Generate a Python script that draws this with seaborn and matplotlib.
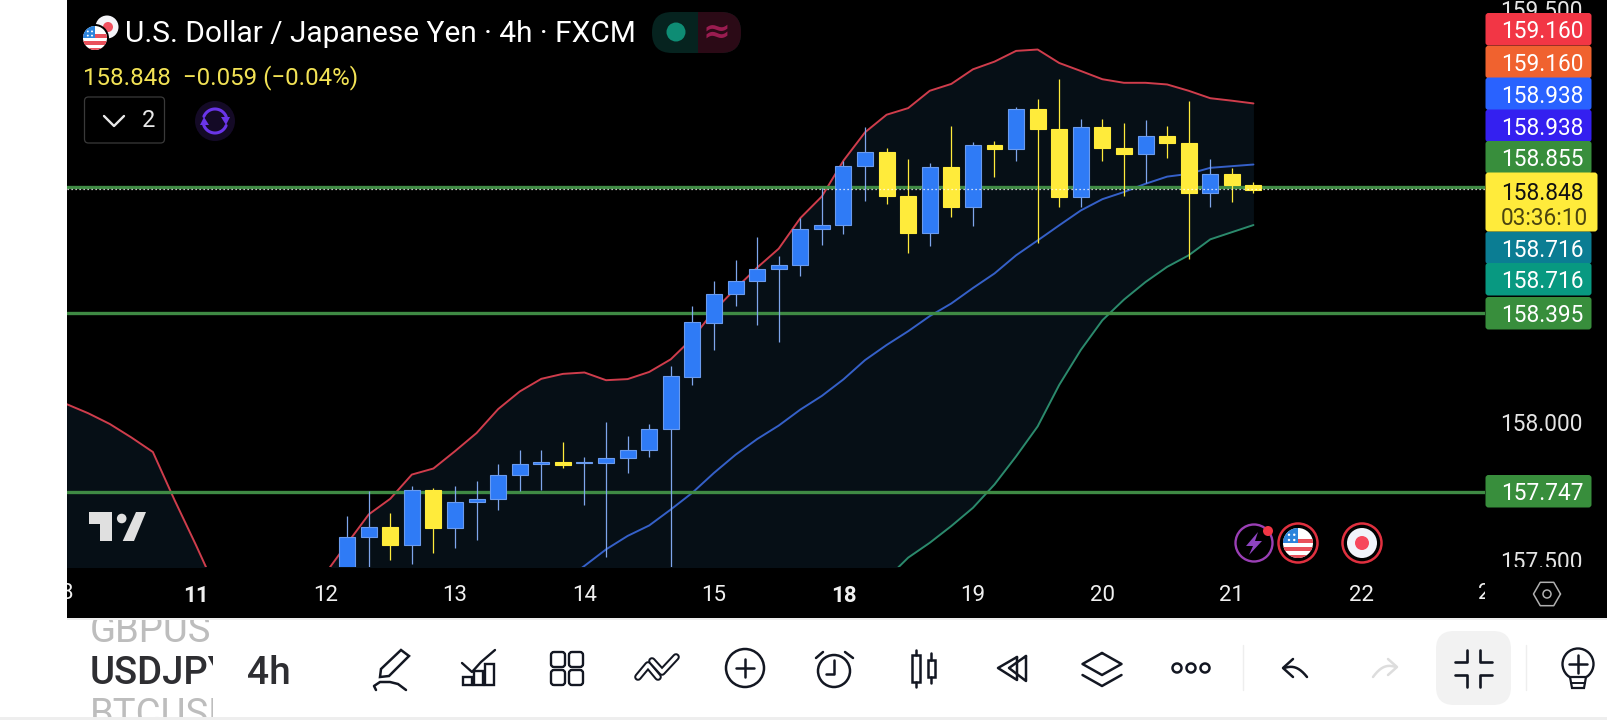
import numpy as np
import pandas as pd
import matplotlib
matplotlib.use("Agg")
import matplotlib.pyplot as plt
from matplotlib.patches import Rectangle, Circle, FancyBboxPatch, Polygon
from matplotlib.transforms import Bbox
import seaborn as sns

# bar numbers count from the "11" day tick, six 4h bars per day
candle_start = 7
candle_open = [157.44, 157.582, 157.619, 157.553, 157.754, 157.613, 157.709, 157.720, 157.807, 157.847,
               157.855, 157.850, 157.850, 157.868, 157.897, 157.973, 158.165, 158.361, 158.466, 158.513,
               158.557, 158.571, 158.702, 158.717, 158.930, 158.982, 158.822, 158.687, 158.927, 158.781,
               159.007, 158.991, 159.138, 159.065, 158.818, 159.072, 158.996, 158.976, 159.040, 159.014,
               158.832, 158.902, 158.862]
candle_close = [157.583, 157.619, 157.553, 157.754, 157.613, 157.710, 157.721, 157.808, 157.848, 157.855,
                157.845, 157.853, 157.869, 157.898, 157.975, 158.167, 158.362, 158.467, 158.514, 158.558,
                158.572, 158.703, 158.717, 158.931, 158.982, 158.821, 158.687, 158.927, 158.781, 159.007,
                158.991, 159.138, 159.064, 158.818, 159.072, 158.995, 158.976, 159.040, 159.013, 158.832,
                158.902, 158.861, 158.845]
candle_high = [157.658, 157.749, 157.670, 157.767, 157.760, 157.769, 157.784, 157.848, 157.900, 157.900,
               157.929, 157.873, 158.001, 157.950, 157.994, 158.202, 158.421, 158.512, 158.588, 158.673,
               158.603, 158.741, 158.850, 158.950, 159.071, 158.996, 158.956, 158.942, 159.077, 159.018,
               159.023, 159.146, 159.174, 159.246, 159.101, 159.101, 159.087, 159.099, 159.077, 159.167,
               158.956, 158.924, 158.873]
candle_low = [157.40, 157.45, 157.499, 157.483, 157.523, 157.541, 157.571, 157.680, 157.749, 157.752,
              157.834, 157.697, 157.510, 157.813, 157.874, 157.453, 158.135, 158.260, 158.421, 158.351,
              158.291, 158.531, 158.642, 158.683, 158.802, 158.792, 158.615, 158.641, 158.745, 158.711,
              158.889, 158.950, 158.652, 158.781, 158.781, 158.950, 158.821, 158.869, 158.958, 158.593,
              158.781, 158.798, 158.832]

upper_start = -6
upper_band = [158.065, 158.032, 157.993, 157.944, 157.891, 157.717, 157.552, 157.38, 157.25, 157.20,
              157.25, 157.35, 157.45, 157.558, 157.664, 157.721, 157.809, 157.831, 157.894, 157.960,
              158.047, 158.111, 158.157, 158.175, 158.180, 158.152, 158.156, 158.182, 158.228, 158.304,
              158.404, 158.485, 158.561, 158.630, 158.741, 158.82, 158.950, 159.053, 159.117, 159.141,
              159.204, 159.229, 159.282, 159.310, 159.349, 159.354, 159.305, 159.276, 159.246, 159.233,
              159.233, 159.227, 159.204, 159.177, 159.168, 159.158]
basis_start = 17
basis_line = [157.42, 157.477, 157.537, 157.586, 157.624, 157.682, 157.743, 157.815, 157.881, 157.938,
              157.987, 158.045, 158.095, 158.155, 158.225, 158.280, 158.330, 158.385, 158.431, 158.487,
              158.540, 158.606, 158.660, 158.715, 158.769, 158.810, 158.836, 158.866, 158.892, 158.902,
              158.924, 158.930, 158.936]
lower_start = 32
lower_band = [157.43, 157.507, 157.561, 157.622, 157.688, 157.773, 157.875, 157.984, 158.135, 158.262,
              158.370, 158.445, 158.509, 158.564, 158.606, 158.664, 158.690, 158.716]

level_prices = [158.855, 158.395, 157.747]
last_price = 158.848
price_ticks = [157.5, 158.0, 159.5]
price_tick_labels = ["157.500", "158.000", "159.500"]
day_ticks = [0, 6, 12, 18, 24, 30, 36, 42, 48, 54]
day_labels = ["11", "12", "13", "14", "15", "18", "19", "20", "21", "22"]
edge_day_ticks = [-6, 60]
edge_day_labels = ["8", "23"]

tag_labels = ["159.160", "159.160", "158.938", "158.938", "158.855", "158.716", "158.716", "158.395", "157.747"]
tag_colors = ["#F23645", "#F0622F", "#2962FF", "#3420F0", "#388E3C", "#0B7D93", "#089981", "#388E3C", "#388E3C"]
tag_tops = [13, 45.7, 77.5, 109.5, 141, 231.5, 263, 297, 475]

UP = "#2F7BF6"
DOWN = "#FFEB3B"
LINE_GREEN = "#3F8A44"
BAND_FILL = "#060F16"
INK = "#131722"

sns.set_theme(style="dark", rc={"axes.grid": False})
plt.rcParams["font.family"] = ["Roboto", "DejaVu Sans"]

W, H = 1608, 720
fig = plt.figure(figsize=(W / 100, H / 100), dpi=100, facecolor="white")


def px_box(x0, y0, x1, y1):
    return Bbox.from_extents(x0, H - y1, x1, H - y0)


# black chart panel behind everything
ax_bg = fig.add_axes([0, 0, 1, 1], zorder=0)
ax_bg.set_xlim(0, W)
ax_bg.set_ylim(H, 0)
ax_bg.axis("off")
ax_bg.add_patch(Rectangle((67, 0), W - 67, 618, color="black", lw=0))
ax_bg.add_patch(Rectangle((67, 618), W - 67, 2, color="#EEEEEE", lw=0))
ax_bg.add_patch(Rectangle((0, 717), W, 3, color="#EEEEEE", lw=0))

# price pane
ax = fig.add_axes([67 / W, (H - 567) / H, (1485 - 67) / W, 567 / H], zorder=1)
ax.set_facecolor("none")
y_bottom, y_top = 157.473, 159.534

upper_x = np.arange(len(upper_band)) + upper_start
lower_x = np.arange(len(lower_band)) + lower_start
basis_x = np.arange(len(basis_line)) + basis_start
fill_floor = np.full(len(upper_band), y_bottom - 0.4)
fill_floor[lower_x - upper_start] = lower_band
ax.fill_between(upper_x, upper_band, fill_floor, color=BAND_FILL, lw=0, zorder=1)

upper_df = pd.DataFrame({"bar": upper_x, "price": upper_band})
basis_df = pd.DataFrame({"bar": basis_x, "price": basis_line})
lower_df = pd.DataFrame({"bar": lower_x, "price": lower_band})
sns.lineplot(data=upper_df, x="bar", y="price", ax=ax, color="#CF3D4C", lw=1.4, estimator=None, zorder=2)
sns.lineplot(data=basis_df, x="bar", y="price", ax=ax, color="#3560C8", lw=1.4, estimator=None, zorder=2)
sns.lineplot(data=lower_df, x="bar", y="price", ax=ax, color="#2B8A6C", lw=1.4, estimator=None, zorder=2)

for level in level_prices:
    ax.axhline(level, color=LINE_GREEN, lw=2.4, zorder=3)

candles = pd.DataFrame({"open": candle_open, "high": candle_high, "low": candle_low, "close": candle_close})
candles["bar"] = np.arange(len(candles)) + candle_start
rising = candles["close"] >= candles["open"]
for mask, body, edge, wick in [(rising, UP, "#6A9BEE", "#7EA6EC"), (~rising, DOWN, DOWN, DOWN)]:
    part = candles[mask]
    ax.vlines(part["bar"], part["low"], part["high"], color=wick, lw=0.9, zorder=4)
    ax.bar(part["bar"], (part["close"] - part["open"]).abs(), bottom=part[["open", "close"]].min(axis=1),
           width=0.74, color=body, edgecolor=edge, lw=0.8, zorder=5)

ax.axhline(last_price, color="white", lw=0.9, ls=(0, (1, 2.2)), zorder=6)

ax.set_xlabel("")
ax.set_ylabel("")
sns.despine(ax=ax, left=True, bottom=True)
ax.yaxis.tick_right()
ax.set_yticks(price_ticks, price_tick_labels)
ax.set_xticks(day_ticks, day_labels)
ax.set_xlim(-5.98, 59.73)
ax.set_ylim(y_bottom, y_top)
ax.tick_params(axis="y", length=0, pad=10.7, labelsize=16.3, labelcolor="#E4E4E4")
ax.tick_params(axis="x", length=0, pad=13, labelsize=16, labelcolor="#F0F0F0")
for lab in ax.get_yticklabels():
    lab.set_clip_on(True)
    lab.set_clip_box(px_box(1485, 0, W, 567))
for lab in ax.get_xticklabels():
    lab.set_clip_on(True)
    lab.set_clip_box(px_box(67, 567, 1485, 618))
    if lab.get_text() in ("11", "18"):
        lab.set_fontweight("bold")

# the two day ticks on the pane edges are cut in half by it
for tick, text in zip(edge_day_ticks, edge_day_labels):
    cut_label = ax.text(tick, -0.0475, text, transform=ax.get_xaxis_transform(), ha="center", va="center",
                        fontsize=16, color="#F0F0F0", clip_on=True)
    cut_label.set_clip_path(None)
    cut_label.set_clip_box(px_box(67, 567, 1485, 618))

# everything around the chart: header, tags, toolbar
ui = fig.add_axes([0, 0, 1, 1], zorder=2)
ui.set_xlim(0, W)
ui.set_ylim(H, 0)
ui.axis("off")
ui.patch.set_alpha(0)


def rbox(x0, y0, x1, y1, r, fc, ec="none", lw=0):
    ui.add_patch(FancyBboxPatch((x0 + r, y0 + r), x1 - x0 - 2 * r, y1 - y0 - 2 * r,
                                boxstyle=f"round,pad={r},rounding_size={r}", fc=fc, ec=ec, lw=lw))


def stroke(xs, ys, color=INK, lw=1.8):
    ui.plot(xs, ys, color=color, lw=lw, solid_capstyle="round", solid_joinstyle="round")


def ring(cx, cy, r, color=INK, lw=1.8, fc="none"):
    ui.add_patch(Circle((cx, cy), r, fc=fc, ec=color, lw=lw))


def us_flag(cx, cy, r):
    disc = Circle((cx, cy), r, fc="white", ec="none")
    ui.add_patch(disc)
    for k in range(3):
        stripe = Rectangle((cx - r, cy - r * 0.3 + k * r * 0.55), 2 * r, r * 0.3, fc="#E9505A", lw=0)
        ui.add_patch(stripe)
        stripe.set_clip_path(disc)
    canton = Rectangle((cx - r, cy - r), r * 1.0, r * 1.0, fc="#2C84DC", lw=0)
    ui.add_patch(canton)
    canton.set_clip_path(disc)
    for dx, dy in [(-0.6, -0.55), (-0.25, -0.55), (-0.6, -0.2), (-0.25, -0.2)]:
        ui.add_patch(Circle((cx + dx * r, cy + dy * r), r * 0.08, fc="white", lw=0))


# header
ring(107, 27, 11.5, fc="#F4F4F8", color="none", lw=0)
ui.add_patch(Circle((108, 27), 5, fc="#F0505F", lw=0))
ui.add_patch(Circle((95, 38), 14, fc="black", lw=0))
us_flag(95, 38, 12)
ui.text(125, 31, "U.S. Dollar / Japanese Yen · 4h · FXCM", color="white", fontsize=21.5, va="center_baseline")
ui.text(83, 75, "158.848  −0.059 (−0.04%)", color="#F2E255", fontsize=17.4, va="center_baseline")
rbox(652, 12, 741, 53, 20, "#06231F")
rbox(698, 12, 741, 53, 20, "#2B0A16")
ui.add_patch(Rectangle((698, 12), 20, 41, fc="#2B0A16", lw=0))
ui.add_patch(Circle((676, 32), 9.5, fc="#0E8C74", lw=0))
ui.text(717, 32, "≈", color="#9A1C50", fontsize=24, ha="center", va="center", family=["DejaVu Sans"], fontweight="bold")
rbox(84.5, 97, 164.5, 143, 4, "black", ec="#3A3A3A", lw=0.9)
stroke([104, 114, 124], [116, 126, 116], color="#E8E8E8", lw=1.7)
ui.text(149, 120.5, "2", color="#E8E8E8", fontsize=17, ha="center", va="center")
ui.add_patch(Circle((215, 121), 20, fc="#140A26", lw=0))
t = np.linspace(0.35, 2.75, 30)
stroke(215 + 12 * np.cos(t), 121 - 12 * np.sin(t), color="#6A35E8", lw=2.2)
stroke(215 + 12 * np.cos(t + np.pi), 121 - 12 * np.sin(t + np.pi), color="#6A35E8", lw=2.2)
ui.add_patch(Polygon([[221, 117], [230, 117], [226, 125]], fc="#6A35E8", lw=0))
ui.add_patch(Polygon([[200, 125], [209, 125], [204, 117]], fc="#6A35E8", lw=0))

# right price tags
for label, color, top in zip(tag_labels, tag_colors, tag_tops):
    rbox(1485.5, top, 1591.5, top + 32.5, 3, color)
    ui.text(1501, top + 16.5, label, color="white", fontsize=16.3, va="center_baseline")
rbox(1485.5, 172.5, 1597.5, 231.5, 3, DOWN)
ui.text(1501, 190.5, "158.848", color="#111111", fontsize=16.3, va="center_baseline")
ui.text(1501, 216, "03:36:10", color="#4A4410", fontsize=16.3, va="center_baseline")

# tradingview logo
ui.add_patch(Polygon([[89, 512], [112, 512], [112, 541], [100, 541], [100, 524], [89, 524]], fc="#E0E0E0", lw=0))
ui.add_patch(Circle((121.7, 518.5), 4.8, fc="#E0E0E0", lw=0))
ui.add_patch(Polygon([[136, 512], [146, 512], [134, 541], [122.7, 541]], fc="#E0E0E0", lw=0))

# event markers
ring(1254, 543, 18.5, color="#9A3FB5", lw=1.7)
ui.add_patch(Polygon([[1258, 532], [1246, 546], [1253, 546], [1249, 555], [1262, 541], [1255, 541]], fc="#8E44C0", lw=0))
ui.add_patch(Circle((1268, 531), 5, fc="#F23645", lw=0))
ring(1298, 543, 19.5, color="#E0303F", lw=1.8, fc="black")
us_flag(1298, 543, 15)
ring(1362, 543, 19.5, color="#E0303F", lw=1.8, fc="black")
ui.add_patch(Circle((1362, 543), 15, fc="#F1F3FA", lw=0))
ui.add_patch(Circle((1362, 543), 7, fc="#F7475C", lw=0))
ang = np.radians(np.arange(0, 361, 60))
stroke(1547 + 13.5 * np.cos(ang), 594 + 13.5 * np.sin(ang), color="#B0B0B0", lw=1.1)
ring(1547, 594, 4, color="#B0B0B0", lw=1.1)

# symbol picker
for text, y, color, weight, clip in [("GBPUSD", 627, "#BDBDBD", "normal", (90, 620, 213, 645)),
                                     ("USDJPY", 669, "#2E2E32", "medium", (90, 640, 213, 700)),
                                     ("BTCUSD", 712, "#BDBDBD", "normal", (90, 695, 213, 717))]:
    lab = ui.text(90, y, text, color=color, fontsize=27.5, fontweight=weight, va="center_baseline", clip_on=True)
    lab.set_clip_box(px_box(*clip))
ui.text(247, 669, "4h", color="#2E2E32", fontsize=28, fontweight="medium", va="center_baseline")

# toolbar icons
ui.add_patch(Polygon([[380, 677], [381, 669], [401, 650], [409, 656], [389, 676]], fc="white", ec=INK, lw=1.8))
stroke([376, 374, 380, 390, 398, 406], [690, 686, 682, 682, 684, 690])
for bx, by in [(463, 677), (474, 671), (485, 664)]:
    ui.add_patch(Rectangle((bx, by), 9, 685 - by, fc="none", ec=INK, lw=1.7))
stroke([462, 472, 481, 495], [663, 672, 662, 650], lw=1.7)
for gx in (551, 569):
    for gy in (652, 670):
        rbox(gx, gy, gx + 14, gy + 15, 3, "none", ec=INK, lw=1.7)
for chev in ([[638, 677], [648, 665], [658, 677]], [[652, 661], [662, 672], [676, 657]]):
    xs, ys = zip(*chev)
    stroke(xs, ys, lw=5.5)
    stroke(xs, ys, color="white", lw=2.6)
ring(745, 668, 19)
stroke([736, 754], [668, 668])
stroke([745, 745], [659, 677])
ring(834, 671, 16)
stroke([834, 834, 826], [660, 674, 674])
stroke([816, 823], [658, 652])
stroke([845, 853], [652, 658])
ui.add_patch(Rectangle((912, 655), 8, 27, fc="none", ec=INK, lw=1.8))
stroke([916, 916], [650, 655])
stroke([916, 916], [682, 687])
ui.add_patch(Rectangle((928, 660), 7, 17, fc="none", ec=INK, lw=1.8))
stroke([931.5, 931.5], [653, 660])
stroke([931.5, 931.5], [677, 683])
stroke([1017, 998, 1017, 1017], [657, 668, 680, 657])
stroke([1026, 1009, 1026, 1026], [656, 668, 681, 656])
stroke([1102, 1121.5, 1102, 1082.5, 1102], [653, 664, 675, 664, 653])
stroke([1082.5, 1102, 1121.5], [675, 686, 675])
for dx in (1177, 1191, 1205):
    ring(dx, 668, 4.5)
for sx in (1243, 1526):
    stroke([sx, sx], [645, 690], color="#EEEEEE", lw=1)
arc = np.linspace(0, 1, 12)
stroke(1284 + 23 * arc, 668 + 9 * (arc ** 2.5) - 2 * np.sin(arc * np.pi))
stroke([1293, 1283, 1293], [659, 668, 677])
stroke(1396 - 23 * arc, 667 + 10 * (arc ** 2.5) - 2 * np.sin(arc * np.pi), color="#DDDDDD")
stroke([1388, 1397, 1388], [659, 667, 675], color="#DDDDDD")
rbox(1436, 631, 1511, 705, 18, "#F2F2F2")
stroke([1455, 1467, 1467], [662, 662, 650], lw=1.9)
stroke([1480, 1480, 1492], [650, 662, 662], lw=1.9)
stroke([1455, 1467, 1467], [675, 675, 687], lw=1.9)
stroke([1492, 1480, 1480], [675, 675, 687], lw=1.9)
ring(1578, 664, 15.5, lw=1.7)
stroke([1569, 1587], [664, 664])
stroke([1578, 1578], [655, 673])
ui.add_patch(Polygon([[1570, 677], [1586, 677], [1584, 688], [1572, 688]], fc="white", ec=INK, lw=1.6))
stroke([1571, 1585], [683, 683], lw=1.4)

fig.savefig("out.png", dpi=100, facecolor="white")
